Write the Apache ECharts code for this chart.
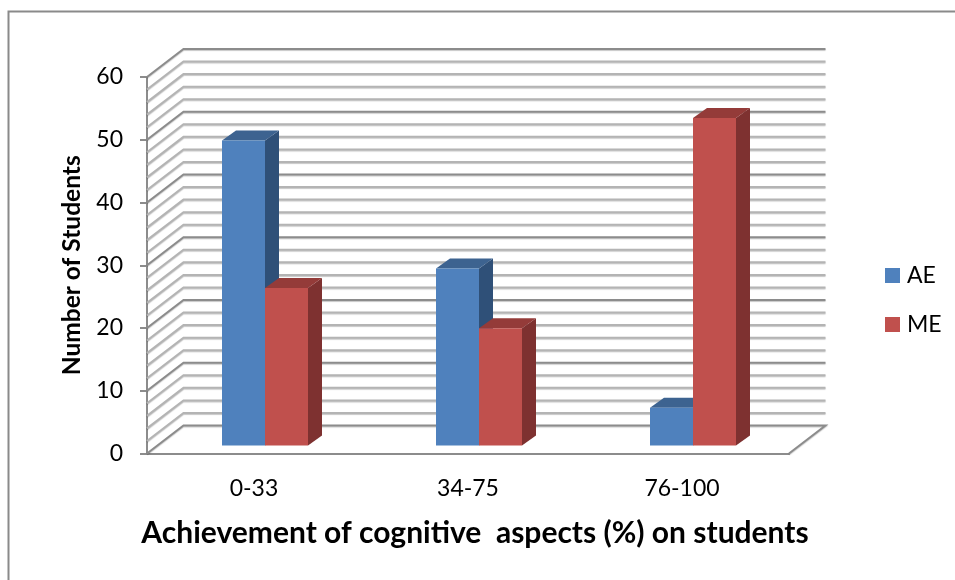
<!DOCTYPE html>
<html>
<head>
<meta charset="utf-8">
<style>html,body{margin:0;padding:0;background:#fff}#c{width:955px;height:580px}</style>
<script src="https://cdn.jsdelivr.net/npm/echarts@6/dist/echarts.min.js"></script>
</head>
<body>
<div id="c"></div>
<script>
const categories = ['0-33', '34-75', '76-100'];
const aeValues = [48.6, 28.2, 6];
const meValues = [25.1, 18.7, 52.2];
const gridValues = [0,2,4,6,8,10,12,14,16,18,20,22,24,26,28,30,32,34,36,38,40,42,44,46,48,50,52,54,56,58,60];
const xTitle = 'Achievement of cognitive  aspects (%) on students';
const yTitle = 'Number of Students';

const FONT = 'Lato';
const WALL = {dx: 36.5, dy: -28};
const BAR = {dx: 14, dy: -10, shiftX: 11, shiftY: -8, width: 43};
const AE = {front: '#4f81bd', top: '#3d6390', side: '#2f5078'};
const ME = {front: '#c0504d', top: '#943b39', side: '#7e3130'};

function wallItem(params, api) {
  const v = api.value(0);
  const cs = params.coordSys;
  const y = api.coord([0, v])[1];
  const x0 = cs.x, x1 = cs.x + cs.width;
  const major = v % 10 === 0;
  const pts = [[x0, y], [x0 + WALL.dx, y + WALL.dy], [x1 + WALL.dx, y + WALL.dy]];
  if (v === 0) pts.push([x1, y]);
  return {
    type: 'polyline',
    shape: {points: pts},
    style: {
      fill: null, stroke: major ? '#8c8c8c' : '#b4b4b4', lineWidth: 2,
      shadowColor: 'rgba(0,0,0,0.22)', shadowBlur: 1, shadowOffsetY: 1
    },
    silent: true
  };
}

function barItem(slot, colors) {
  return function (params, api) {
    const idx = api.value(0);
    const base = api.coord([idx, 0]);
    const top = api.coord([idx, api.value(1)]);
    const w = BAR.width;
    const x0 = base[0] + BAR.shiftX + (slot === 0 ? -w : 0);
    const x1 = x0 + w;
    const yb = base[1] + BAR.shiftY;
    const yt = top[1] + BAR.shiftY;
    const d = BAR.dx, e = BAR.dy;
    return {
      type: 'group',
      children: [
        {type: 'polygon', shape: {points: [[x1, yt], [x1 + d, yt + e], [x1 + d, yb + e], [x1, yb]]}, style: {fill: colors.side}},
        {type: 'polygon', shape: {points: [[x0, yt], [x0 + d, yt + e], [x1 + d, yt + e], [x1, yt]]}, style: {fill: colors.top}},
        {type: 'rect', shape: {x: x0, y: yt, width: w, height: yb - yt}, style: {fill: colors.front}}
      ]
    };
  };
}

const chart = echarts.init(document.getElementById('c'), null, {renderer: 'canvas'});
chart.setOption({
  backgroundColor: '#fff',
  animation: false,
  textStyle: {fontFamily: FONT},
  grid: {left: 147, right: 166, top: 77, bottom: 126.5},
  legend: {
    orient: 'vertical', left: 880, top: 258, itemWidth: 15, itemHeight: 15, itemGap: 24,
    icon: 'rect', data: ['AE', 'ME'], selectedMode: false,
    textStyle: {fontFamily: FONT, fontSize: 23, lineHeight: 25, color: '#000', padding: [0, 0, 0, 2]}
  },
  graphic: [{
    type: 'rect', silent: true, z: -1,
    shape: {x: 8.5, y: 11.5, width: 1000, height: 1000},
    style: {fill: null, stroke: '#8a8a8a', lineWidth: 2}
  }],
  xAxis: {
    type: 'category', data: categories,
    axisLine: {show: true, lineStyle: {color: '#8c8c8c', width: 2}},
    axisTick: {show: false},
    axisLabel: {fontFamily: FONT, fontSize: 23, color: '#000', margin: 24},
    name: xTitle, nameLocation: 'middle', nameGap: 65,
    nameTextStyle: {fontFamily: FONT, fontSize: 30, fontWeight: 'bold', color: '#000', padding: [0, 0, 0, 14]}
  },
  yAxis: {
    type: 'value', min: 0, max: 60, interval: 10,
    axisLine: {show: true, lineStyle: {color: '#8c8c8c', width: 2}},
    axisTick: {show: true, length: 7, lineStyle: {color: '#8c8c8c', width: 2}},
    splitLine: {show: false},
    axisLabel: {fontFamily: FONT, fontSize: 23, color: '#000', margin: 24},
    name: yTitle, nameLocation: 'middle', nameGap: 62,
    nameTextStyle: {fontFamily: FONT, fontSize: 24.5, fontWeight: 'bold', color: '#000'}
  },
  series: [
    {name: 'walls', type: 'custom', coordinateSystem: 'cartesian2d', renderItem: wallItem,
     data: gridValues.map(v => [v]), encode: {y: 0}, silent: true, z: 1, clip: false},
    {name: 'AE', type: 'custom', renderItem: barItem(0, AE), itemStyle: {color: AE.front},
     data: aeValues.map((v, i) => [i, v]), encode: {x: 0, y: 1}, z: 2, clip: false},
    {name: 'ME', type: 'custom', renderItem: barItem(1, ME), itemStyle: {color: ME.front},
     data: meValues.map((v, i) => [i, v]), encode: {x: 0, y: 1}, z: 3, clip: false}
  ]
});
</script>
</body>
</html>
